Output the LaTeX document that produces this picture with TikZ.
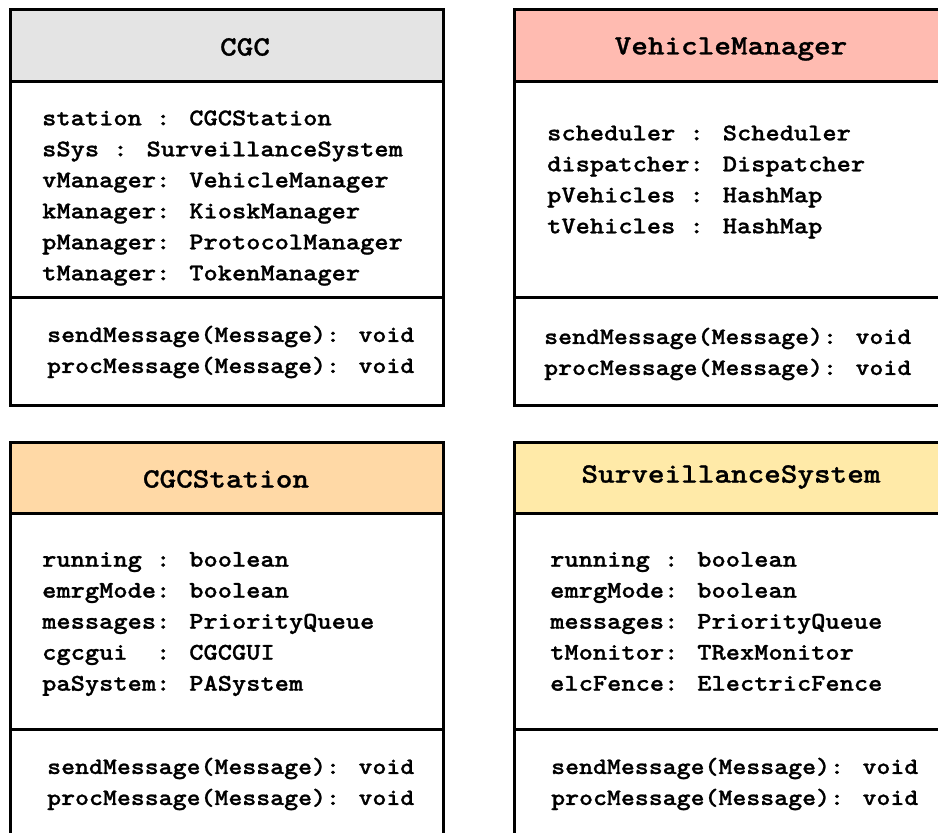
\documentclass[tikz,border=0pt]{standalone}
\usepackage{fontspec}
\newfontfamily\courfont{lmmonolt10-bold.otf}[FakeStretch=1.13,FakeBold=1]
\usepackage{tikz}
\usetikzlibrary{positioning}
\definecolor{cgcgray}{HTML}{E4E4E4}
\definecolor{vmred}{HTML}{FFBBB1}
\definecolor{stnorange}{HTML}{FFD9A6}
\definecolor{survyellow}{HTML}{FFEAA8}
\begin{document}
\begin{tikzpicture}
    [x=1pt,y=-1pt,
     box/.style={draw=black,line width=3pt,outer sep=0,inner sep=0,
                 minimum width=433pt,fill=white},
     hdr/.style={box,minimum height=71.5pt},
     att/.style={box,minimum height=216pt},
     mth/.style={box,minimum height=108pt},
     title/.style={inner sep=0,font=\courfont\fontsize{28}{34}\selectfont},
     txt/.style={anchor=west,align=left,inner sep=0,
                 font=\courfont\fontsize{24}{31}\selectfont,
                 execute at begin node=\strut,execute at end node=\strut},
     mtxt/.style={txt,font=\courfont\fontsize{23.5}{31}\selectfont}]
    \useasboundingbox (0,0) rectangle (938,833);
    \clip (0,0) rectangle (938,833);
    \def\methods{sendMessage(Message): void\\procMessage(Message): void}

    % top row
    \node[hdr,fill=cgcgray] (cgc) at (226.5,45.25) {};
    \node[att,below=0pt of cgc] (cgc-a) {};
    \node[mth,below=0pt of cgc-a] (cgc-m) {};
    \node[hdr,fill=vmred] (vm) at (731,45.25) {};
    \node[att,below=0pt of vm] (vm-a) {};
    \node[mth,below=0pt of vm-a] (vm-m) {};

    % bottom row
    \node[hdr,fill=stnorange] (stn) at (226.5,478) {};
    \node[att,below=0pt of stn] (stn-a) {};
    \node[mth,below=0pt of stn-a] (stn-m) {};
    \node[hdr,fill=survyellow] (surv) at (731,478) {};
    \node[att,below=0pt of surv] (surv-a) {};
    \node[mth,below=0pt of surv-a] (surv-m) {};

    \node[title] (cgc-t) at (245,47) {CGC};
    \node[title] (vm-t) at (731,49) {VehicleManager};
    \node[title] (stn-t) at (226,479) {CGCStation};
    \node[title] (surv-t) at (731,477) {SurveillanceSystem};

    \node[txt] (cgc-at) at (42,200)
      {station : CGCStation\\sSys : SurveillanceSystem\\vManager: VehicleManager\\
       kManager: KioskManager\\pManager: ProtocolManager\\tManager: TokenManager};
    \node[txt] (vm-at) at (547,184)
      {scheduler : Scheduler\\dispatcher: Dispatcher\\pVehicles : HashMap\\
       tVehicles : HashMap};
    \node[txt] (stn-at) at (42,626)
      {running : boolean\\emrgMode: boolean\\messages: PriorityQueue\\
       cgcgui\ \ : CGCGUI\\paSystem: PASystem};
    \node[txt] (surv-at) at (550,626)
      {running : boolean\\emrgMode: boolean\\messages: PriorityQueue\\
       tMonitor: TRexMonitor\\elcFence: ElectricFence};

    \node[mtxt] (cgc-mt) at (47,354) {\methods};
    \node[mtxt] (vm-mt) at (544,356) {\methods};
    \node[mtxt] (stn-mt) at (47,786) {\methods};
    \node[mtxt] (surv-mt) at (551,786) {\methods};
\end{tikzpicture}
\end{document}
